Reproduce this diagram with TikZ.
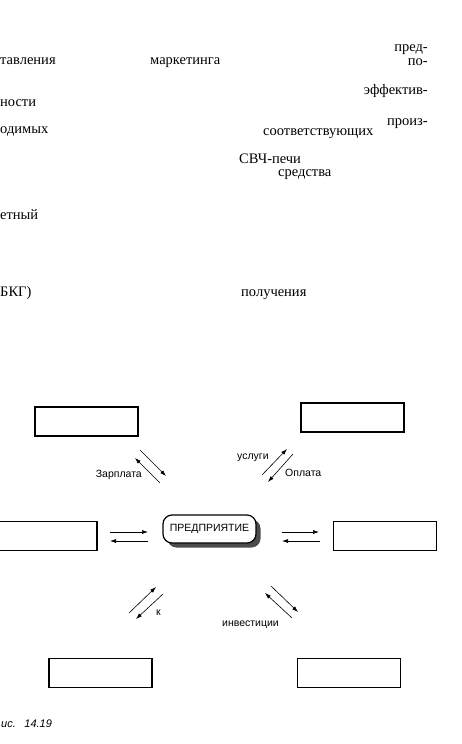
\documentclass[tikz,border=0pt]{standalone}
\usepackage{fontspec}
\setmainfont{Liberation Serif}
\newfontfamily\diagfont{Liberation Sans}
\usetikzlibrary{arrows.meta,shadows}

\tikzset{
    word/.style={font=\fontsize{14.5}{16}\selectfont, inner sep=0pt},
    box/.style={draw, line width=1.2pt, minimum width=103pt, minimum height=29pt, inner sep=0pt},
    firm/.style={draw, line width=1.2pt, fill=white, rounded corners=9pt, minimum width=93pt, minimum height=28pt, inner sep=0pt,
        font=\diagfont\fontsize{10.5}{12}\selectfont,
        drop shadow={shadow xshift=4.5pt, shadow yshift=-4.5pt, fill=black!70, opacity=1}},
    flow/.style={-{Latex[length=6pt,width=4pt]}, line width=0.6pt},
    lbl/.style={font=\diagfont\fontsize{10.5}{12}\selectfont, inner sep=0pt},
}

\begin{document}
\begin{tikzpicture}[x=1pt,y=-1pt]
    \useasboundingbox (0,0) rectangle (461,744);
    \clip (0,0) rectangle (461,744);
    \node[word, anchor=base east] (w1) at (428,51.5) {пред-};
    \node[word, anchor=base west] (w2) at (0,64) {тавления};
    \node[word, anchor=base west] (w3) at (150,64) {маркетинга};
    \node[word, anchor=base east] (w4) at (428,65) {по-};
    \node[word, anchor=base east] (w5) at (428,94) {эффектив-};
    \node[word, anchor=base west] (w6) at (0,106) {ности};
    \node[word, anchor=base east] (w7) at (428,125) {произ-};
    \node[word, anchor=base west] (w8) at (0,133) {одимых};
    \node[word, anchor=base west] (w9) at (263,135) {соответствующих};
    \node[word, anchor=base west] (w10) at (239,163) {СВЧ-печи};
    \node[word, anchor=base west] (w11) at (278,176) {средства};
    \node[word, anchor=base west] (w12) at (0,219) {етный};
    \node[word, anchor=base west] (w13) at (0,296) {БКГ)};
    \node[word, anchor=base west] (w14) at (241,296) {получения};

    \node[box] (tl) at (86.5,421.5) {};
    \node[box] (tr) at (352.5,417.5) {};
    \node[box] (ml) at (45.5,536) {};
    \node[box] (mr) at (385,536) {};
    \node[box] (bl) at (100.5,673) {};
    \node[box] (br) at (349,673) {};
    \node[firm] (firm) at (209.5,529) {ПРЕДПРИЯТИЕ};

    \coordinate (l1a) at (110,532); \coordinate (l1b) at (148,532);
    \coordinate (l2a) at (148,541); \coordinate (l2b) at (110,541);
    \coordinate (r1a) at (282,532); \coordinate (r1b) at (319,532);
    \coordinate (r2a) at (320,541); \coordinate (r2b) at (282,541);
    \coordinate (tl1a) at (140,450); \coordinate (tl1b) at (166,476);
    \coordinate (tl2a) at (160,483); \coordinate (tl2b) at (135,458);
    \coordinate (tr1a) at (262,475); \coordinate (tr1b) at (287,449);
    \coordinate (tr2a) at (293,454); \coordinate (tr2b) at (268,482);
    \coordinate (bl1a) at (129,613); \coordinate (bl1b) at (156,587);
    \coordinate (bl2a) at (163,594); \coordinate (bl2b) at (136,619);
    \coordinate (br1a) at (271,586); \coordinate (br1b) at (298,612);
    \coordinate (br2a) at (292,618); \coordinate (br2b) at (265,593);
    \draw[flow] (l1a) -- (l1b);
    \draw[flow] (l2a) -- (l2b);
    \draw[flow] (r1a) -- (r1b);
    \draw[flow] (r2a) -- (r2b);
    \draw[flow] (tl1a) -- (tl1b);
    \draw[flow] (tl2a) -- (tl2b);
    \draw[flow] (tr1a) -- (tr1b);
    \draw[flow] (tr2a) -- (tr2b);
    \draw[flow] (bl1a) -- (bl1b);
    \draw[flow] (bl2a) -- (bl2b);
    \draw[flow] (br1a) -- (br1b);
    \draw[flow] (br2a) -- (br2b);

    \node[lbl, anchor=east] (pay) at (142,475) {Зарплата};
    \node[lbl, anchor=west] (serv) at (237,458) {услуги};
    \node[lbl, anchor=west] (fee) at (285,473) {Оплата};
    \node[lbl, anchor=west] (cap) at (156,613) {к};
    \node[lbl, anchor=west] (inv) at (222,625) {инвестиции};
    \node[lbl, anchor=base west, font=\diagfont\itshape\fontsize{11}{13}\selectfont] (cap1) at (1,727.5) {ис.\enspace\ 14.19};
\end{tikzpicture}
\end{document}
